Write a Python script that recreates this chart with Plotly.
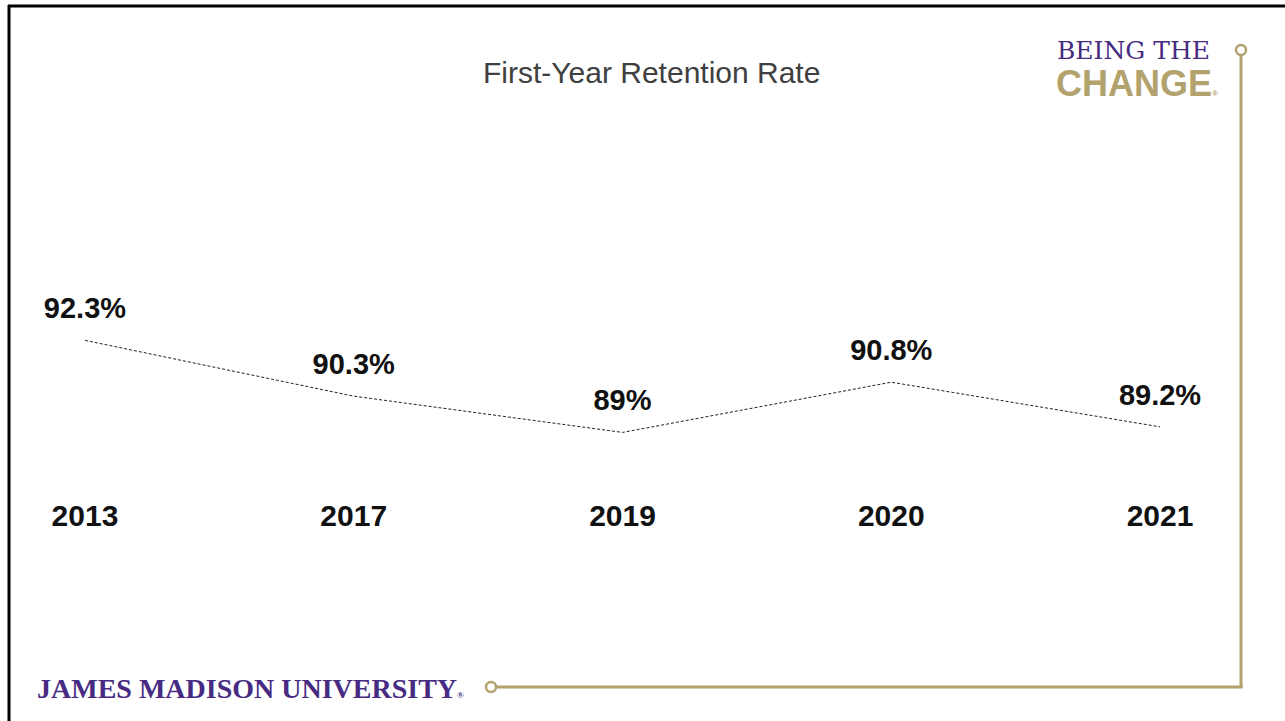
import plotly.graph_objects as go

W, H = 1285, 721

# ---- data ----
years = ["2013", "2017", "2019", "2020", "2021"]
rates = [92.3, 90.3, 89.0, 90.8, 89.2]
rate_labels = ["92.3%", "90.3%", "89%", "90.8%", "89.2%"]
title_text = "First-Year Retention Rate"

PURPLE = "#472B83"
GOLD = "#B2A26E"


def px(x):
    return x / W


def py(y):
    return 1 - y / H


fig = go.Figure()
fig.add_trace(go.Scatter(
    x=years, y=rates, mode="lines+markers+text",
    text=rate_labels, textposition="top center",
    textfont=dict(family="Liberation Sans", size=29, color="#111111", weight="bold"),
    marker=dict(size=22, opacity=0),
    line=dict(color="#222222", width=1, dash="3px,2px"),
    hoverinfo="skip", cliponaxis=False, showlegend=False,
))

shapes = [
    # black frame
    dict(type="line", xref="paper", yref="paper", x0=px(8), x1=px(1285), y0=py(6), y1=py(6),
         line=dict(color="black", width=3)),
    dict(type="line", xref="paper", yref="paper", x0=px(9), x1=px(9), y0=py(5), y1=py(721),
         line=dict(color="black", width=3)),
    # gold bracket
    dict(type="line", xref="paper", yref="paper", x0=px(1241), x1=px(1241), y0=py(56), y1=py(688),
         line=dict(color=GOLD, width=3)),
    dict(type="line", xref="paper", yref="paper", x0=px(497), x1=px(1242.5), y0=py(687), y1=py(687),
         line=dict(color=GOLD, width=3)),
    dict(type="circle", xref="paper", yref="paper", x0=px(1236), x1=px(1246), y0=py(45), y1=py(55),
         line=dict(color=GOLD, width=2.5), fillcolor="white"),
    dict(type="circle", xref="paper", yref="paper", x0=px(486), x1=px(496), y0=py(682), y1=py(692),
         line=dict(color=GOLD, width=2.5), fillcolor="white"),
]

annotations = [
    dict(text=title_text, xref="paper", yref="paper", x=px(651), y=py(73),
         xanchor="center", yanchor="middle", showarrow=False,
         font=dict(family="Liberation Sans", size=30, color="#404040")),
    dict(text="BEING THE", xref="paper", yref="paper", x=px(1055), y=py(51),
         xanchor="left", yanchor="middle", showarrow=False,
         font=dict(family="DejaVu Serif", size=25, color=PURPLE)),
    dict(text="CHANGE<span style='font-size:8px'>®</span>", xref="paper", yref="paper",
         x=px(1054), y=py(84), xanchor="left", yanchor="middle", showarrow=False,
         font=dict(family="Liberation Sans", size=36, color=GOLD, weight="bold")),
    dict(text="JAMES MADISON UNIVERSITY<span style='font-size:9px'>®</span>", xref="paper", yref="paper",
         x=px(35), y=py(688), xanchor="left", yanchor="middle", showarrow=False,
         font=dict(family="Liberation Serif", size=28, color=PURPLE, weight="bold")),
]

fig.update_layout(
    width=W, height=H,
    margin=dict(l=0, r=0, t=0, b=0),
    paper_bgcolor="white", plot_bgcolor="white",
    shapes=shapes, annotations=annotations,
    xaxis=dict(domain=[px(40), px(1205)], type="category", range=[-0.1674, 4.1674],
               showgrid=False, zeroline=False, showline=False, ticks="",
               tickfont=dict(family="Liberation Sans", size=30, color="#111111", weight="bold")),
    yaxis=dict(domain=[py(495), py(200)], range=[86.757, 97.331],
               showgrid=False, zeroline=False, showline=False, showticklabels=False, ticks=""),
)

fig.write_html("out.html")
